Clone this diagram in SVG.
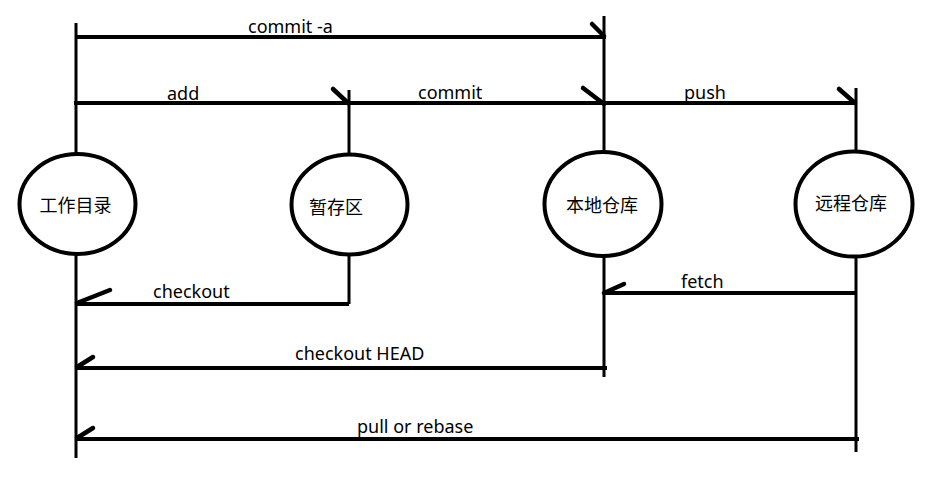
<svg xmlns="http://www.w3.org/2000/svg" width="941" height="482" viewBox="0 0 941 482">
<style>
.node ellipse{fill:#fff;stroke:#000;stroke-width:4}
.node text{font-family:"Noto Sans CJK SC","Noto Sans",sans-serif;font-size:18px;fill:#000;text-anchor:middle}
.h{stroke:#000;stroke-width:4;fill:none}
.v{stroke:#000;stroke-width:3;fill:none}
.head{stroke:#000;stroke-width:4.5;stroke-linecap:round;fill:none}
.lbl{font-family:"Noto Sans","Noto Sans CJK SC",sans-serif;font-size:18px;fill:#000}
</style>
<rect width="941" height="482" fill="#fff"/>
<g id="connectors">
  <path class="v" d="M76 23V153M76 255V458"/>
  <path class="v" d="M349 90V153M349 256V304"/>
  <path class="v" d="M604 16V151M604 257V377"/>
  <path class="v" d="M856 88V150M856 258V452"/>
  <path class="h" d="M76 37H606"/>
  <path class="head" d="M592 24L604 36"/>
  <text class="lbl" x="248" y="33">commit -a</text>
  <path class="h" d="M74 103H349"/>
  <path class="head" d="M333 89L348 103"/>
  <text class="lbl" x="167" y="100">add</text>
  <path class="h" d="M349 103H604"/>
  <path class="head" d="M583 88L604 104"/>
  <text class="lbl" x="418" y="99">commit</text>
  <path class="h" d="M604 103H857"/>
  <path class="head" d="M839 89L855 103"/>
  <text class="lbl" x="684" y="99">push</text>
  <path class="h" d="M76 304H349"/>
  <path class="head" d="M77 303L110 290"/>
  <text class="lbl" x="153" y="298">checkout</text>
  <path class="h" d="M603 293H857"/>
  <path class="head" d="M604 293L624 284"/>
  <text class="lbl" x="681" y="288">fetch</text>
  <path class="h" d="M76 368H607"/>
  <path class="head" d="M77 367L93 357"/>
  <text class="lbl" x="295" y="360">checkout HEAD</text>
  <path class="h" d="M76 439H859"/>
  <path class="head" d="M77 438L93 428"/>
  <text class="lbl" x="357" y="433">pull or rebase</text>
</g>
<g id="node-workdir" class="node">
  <ellipse cx="77.5" cy="204" rx="58" ry="50"/>
  <text x="75.5" y="212">工作目录</text>
</g>
<g id="node-stage" class="node">
  <ellipse cx="349.5" cy="204.5" rx="58" ry="50"/>
  <text x="336" y="214">暂存区</text>
</g>
<g id="node-local" class="node">
  <ellipse cx="603" cy="204" rx="58.5" ry="52"/>
  <text x="602" y="212">本地仓库</text>
</g>
<g id="node-remote" class="node">
  <ellipse cx="854" cy="204" rx="58.5" ry="52.5"/>
  <text x="851" y="210">远程仓库</text>
</g>
</svg>
